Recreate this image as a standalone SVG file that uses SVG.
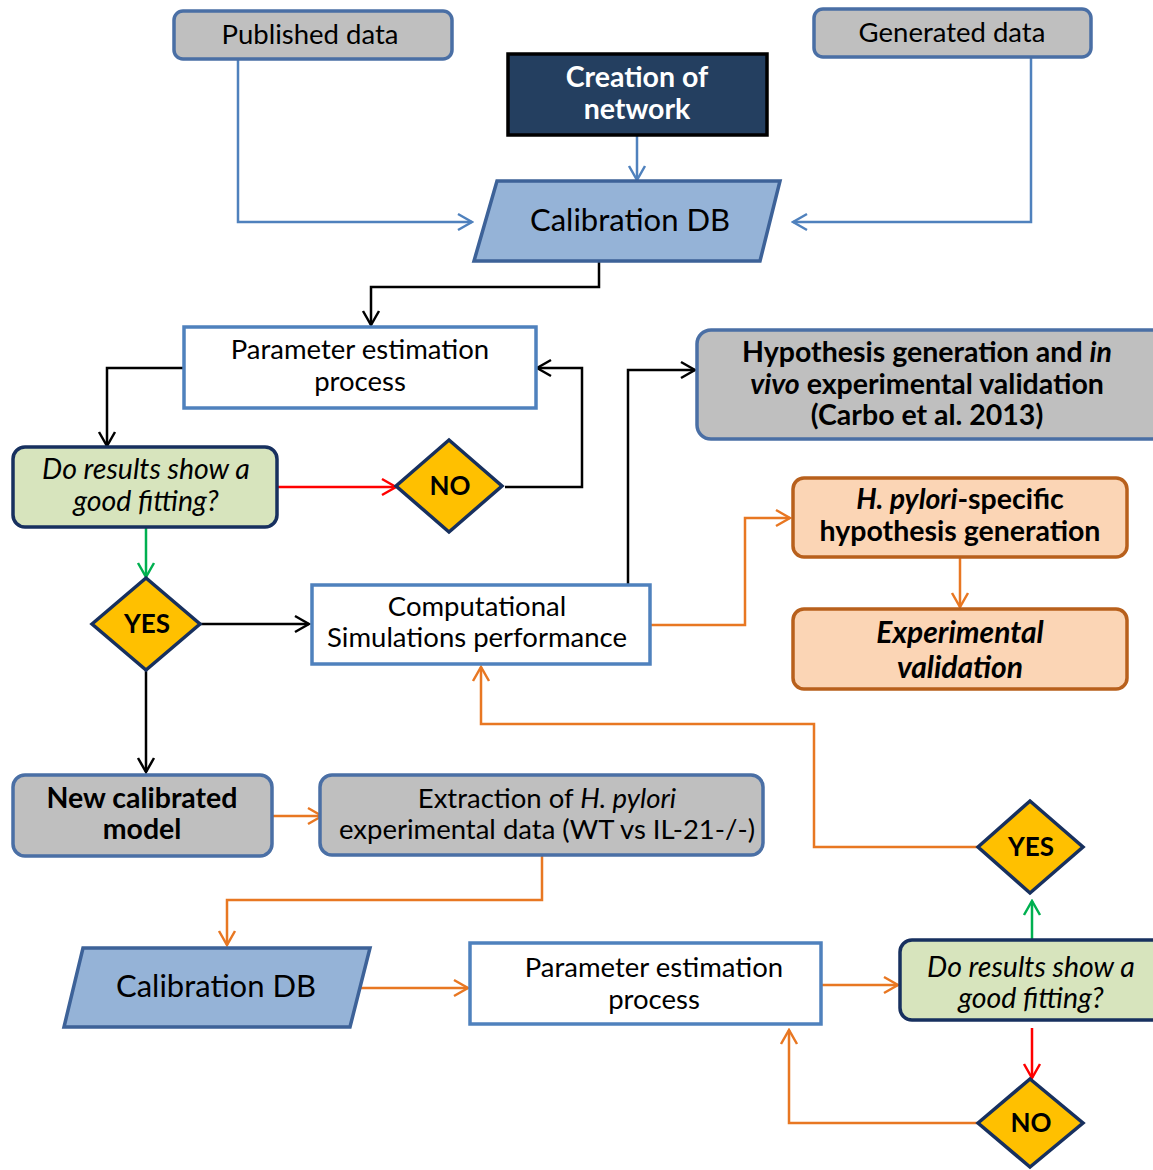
<svg xmlns="http://www.w3.org/2000/svg" width="1153" height="1170" viewBox="0 0 1153 1170">
<style>
text{font-family:Lato,"Open Sans","Liberation Sans",sans-serif;text-anchor:middle;fill:#000}
.t24{font-size:27.5px}
.b{font-weight:bold;font-size:28.5px}
.i{font-style:italic}
.it{font-style:italic;font-size:28.5px}
.gray{fill:#bfbfbf;stroke:#4a6fa5;stroke-width:3.5}
.white{fill:#fff;stroke:#4f81bd;stroke-width:3.5}
.db{fill:#95b3d7;stroke:#3d6298;stroke-width:3.5}
.green{fill:#d7e4bd;stroke:#17305f;stroke-width:3.5}
.dia{fill:#ffc000;stroke:#17305f;stroke-width:3.5}
.peach{fill:#fbd5b5;stroke:#b8601c;stroke-width:3.5}
.c{fill:none;stroke-width:2.5}
.k{stroke:#000}
.bl{stroke:#4f81bd}
.o{stroke:#e87722}
.r{stroke:#ff0000}
.g{stroke:#00b050}
</style>
<defs>
<marker id="ak" viewBox="0 0 20 20" refX="18" refY="10" markerWidth="20" markerHeight="20" markerUnits="userSpaceOnUse" orient="auto"><path d="M4,2 L18,10 L4,18" fill="none" stroke="#000" stroke-width="2.5"/></marker>
<marker id="ab" viewBox="0 0 20 20" refX="18" refY="10" markerWidth="20" markerHeight="20" markerUnits="userSpaceOnUse" orient="auto"><path d="M4,2 L18,10 L4,18" fill="none" stroke="#4f81bd" stroke-width="2.5"/></marker>
<marker id="ao" viewBox="0 0 20 20" refX="18" refY="10" markerWidth="20" markerHeight="20" markerUnits="userSpaceOnUse" orient="auto"><path d="M4,2 L18,10 L4,18" fill="none" stroke="#e87722" stroke-width="2.5"/></marker>
<marker id="ar" viewBox="0 0 20 20" refX="18" refY="10" markerWidth="20" markerHeight="20" markerUnits="userSpaceOnUse" orient="auto"><path d="M4,2 L18,10 L4,18" fill="none" stroke="#ff0000" stroke-width="2.5"/></marker>
<marker id="ag" viewBox="0 0 20 20" refX="18" refY="10" markerWidth="20" markerHeight="20" markerUnits="userSpaceOnUse" orient="auto"><path d="M4,2 L18,10 L4,18" fill="none" stroke="#00b050" stroke-width="2.5"/></marker>
</defs>

<g id="connectors">
<path class="c bl" d="M238,59 V222 H472" marker-end="url(#ab)"/>
<path class="c bl" d="M1031,57 V222 H793" marker-end="url(#ab)"/>
<path class="c bl" d="M637,135 V180" marker-end="url(#ab)"/>
<path class="c k" d="M599,261 V287 H371 V325" marker-end="url(#ak)"/>
<path class="c k" d="M184,368 H107 V446" marker-end="url(#ak)"/>
<path class="c r" d="M277,487 H396" marker-end="url(#ar)"/>
<path class="c k" d="M505,487 H582 V368 H537" marker-end="url(#ak)"/>
<path class="c g" d="M146,527 V577" marker-end="url(#ag)"/>
<path class="c k" d="M200,624 H309" marker-end="url(#ak)"/>
<path class="c k" d="M146,670 V772" marker-end="url(#ak)"/>
<path class="c k" d="M628,585 V370 H695" marker-end="url(#ak)"/>
<path class="c o" d="M650,625 H745 V518 H790" marker-end="url(#ao)"/>
<path class="c o" d="M960,557 V607" marker-end="url(#ao)"/>
<path class="c o" d="M978,847 H814 V724 H481 V667" marker-end="url(#ao)"/>
<path class="c o" d="M272,816 H322" marker-end="url(#ao)"/>
<path class="c o" d="M542,855 V900 H227 V945" marker-end="url(#ao)"/>
<path class="c o" d="M357,988 H468" marker-end="url(#ao)"/>
<path class="c o" d="M821,985 H898" marker-end="url(#ao)"/>
<path class="c g" d="M1032,940 V901" marker-end="url(#ag)"/>
<path class="c r" d="M1032,1028 V1078" marker-end="url(#ar)"/>
<path class="c o" d="M978,1123 H789 V1030" marker-end="url(#ao)"/>
</g>

<g id="published-data"><rect class="gray" x="174" y="11" width="278" height="48" rx="9"/><text class="t24" x="310" y="44">Published data</text></g>
<g id="generated-data"><rect class="gray" x="814" y="9" width="277" height="48" rx="9"/><text class="t24" x="952" y="42">Generated data</text></g>
<g id="creation-network"><rect x="508" y="54" width="259" height="81" fill="#243f60" stroke="#000" stroke-width="3.5"/><text class="b" x="637" y="87" style="fill:#fff">Creation of</text><text class="b" x="637" y="119" style="fill:#fff">network</text></g>
<g id="calibration-db-1"><polygon class="db" points="497,181 780,181 760,261 474,261"/><text x="630" y="231" style="font-size:31px">Calibration DB</text></g>

<g id="param-est-1"><rect class="white" x="184" y="327" width="352" height="81"/><text class="t24" x="360" y="359">Parameter estimation</text><text class="t24" x="360" y="391">process</text></g>
<g id="fit-1"><rect class="green" x="13" y="447" width="264" height="80" rx="12"/><text class="it" x="146" y="479">Do results show a</text><text class="it" x="146" y="511">good fitting?</text></g>
<g id="no-1"><polygon class="dia" points="396,486 449,440 502,486 449,532"/><text class="b" x="450" y="495" style="font-size:26px">NO</text></g>
<g id="yes-1"><polygon class="dia" points="92,624 146,578 200,624 146,670"/><text class="b" x="147" y="633" style="font-size:26px">YES</text></g>
<g id="comp-sim"><rect class="white" x="312" y="585" width="338" height="79"/><text class="t24" x="477" y="616">Computational</text><text class="t24" x="477" y="647">Simulations performance</text></g>
<g id="hypothesis-invivo"><rect class="gray" x="697" y="330" width="470" height="109" rx="14"/><text class="b" x="927" y="362">Hypothesis generation and <tspan class="i">in</tspan></text><text class="b" x="927" y="394"><tspan class="i">vivo</tspan> experimental validation</text><text class="b" x="927" y="425">(Carbo et al. 2013)</text></g>
<g id="hpylori-hypothesis"><rect class="peach" x="793" y="478" width="334" height="79" rx="11"/><text class="b" x="960" y="509"><tspan class="i">H. pylori</tspan>-specific</text><text class="b" x="960" y="541">hypothesis generation</text></g>
<g id="experimental-validation"><rect class="peach" x="793" y="609" width="334" height="80" rx="11"/><text class="b i" x="960" y="643" style="font-size:30px">Experimental</text><text class="b i" x="960" y="678" style="font-size:30px">validation</text></g>

<g id="new-calibrated-model"><rect class="gray" x="13" y="775" width="259" height="81" rx="12"/><text class="b" x="142" y="808">New calibrated</text><text class="b" x="142" y="839">model</text></g>
<g id="extraction"><rect class="gray" x="320" y="775" width="443" height="80" rx="12"/><text class="t24" x="547" y="808">Extraction of <tspan class="i">H. pylori</tspan></text><text class="t24" x="547" y="839">experimental data (WT vs IL-21-/-)</text></g>
<g id="calibration-db-2"><polygon class="db" points="83,948 370,948 350,1027 64,1027"/><text x="216" y="997" style="font-size:31px">Calibration DB</text></g>
<g id="param-est-2"><rect class="white" x="470" y="943" width="351" height="81"/><text class="t24" x="654" y="977">Parameter estimation</text><text class="t24" x="654" y="1009">process</text></g>
<g id="fit-2"><rect class="green" x="900" y="940" width="265" height="80" rx="12"/><text class="it" x="1031" y="977">Do results show a</text><text class="it" x="1031" y="1008">good fitting?</text></g>
<g id="yes-2"><polygon class="dia" points="978,847 1030,801 1083,847 1030,893"/><text class="b" x="1031" y="856" style="font-size:26px">YES</text></g>
<g id="no-2"><polygon class="dia" points="978,1123 1030,1079 1083,1123 1030,1167"/><text class="b" x="1031" y="1132" style="font-size:26px">NO</text></g>
</svg>
